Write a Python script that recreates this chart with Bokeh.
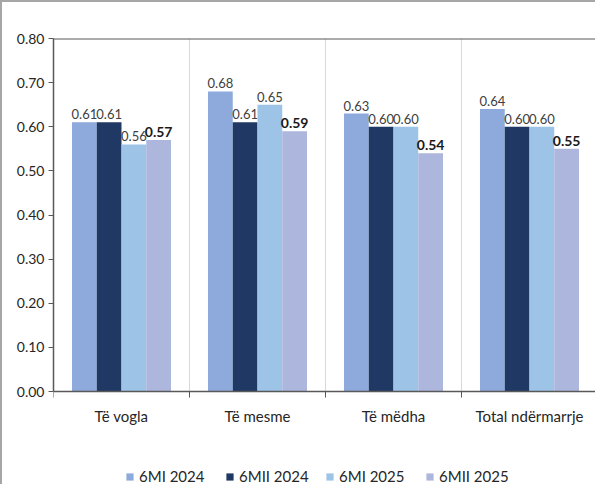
from bokeh.plotting import figure
from bokeh.models import (Range1d, FixedTicker, Legend, LegendItem, Span,
                          NumeralTickFormatter)
from bokeh.core.properties import value
from bokeh.embed import file_html
from bokeh.resources import INLINE

categories = ["Të vogla", "Të mesme", "Të mëdha", "Total ndërmarrje"]
series_names = ["6MI 2024", "6MII 2024", "6MI 2025", "6MII 2025"]
s_6MI_2024 = [0.61, 0.68, 0.63, 0.64]
s_6MII_2024 = [0.61, 0.61, 0.60, 0.60]
s_6MI_2025 = [0.56, 0.65, 0.60, 0.60]
s_6MII_2025 = [0.57, 0.59, 0.54, 0.55]
y_ticks = [0.0, 0.1, 0.2, 0.3, 0.4, 0.5, 0.6, 0.7, 0.8]

series = [s_6MI_2024, s_6MII_2024, s_6MI_2025, s_6MII_2025]
colors = ["#8EA9DB", "#1F3864", "#9DC3E6", "#ADB6DC"]

FONT = value("Lato")
TXT = "#404040"
AXIS = "#595959"

ncat = len(categories)
ymax = y_ticks[-1]
# room below zero (inside the frame) for category labels and legend
ymin = -ymax * 95 / 353

p = figure(width=595, height=484, output_backend="svg", toolbar_location=None,
           x_range=Range1d(0, ncat), y_range=Range1d(ymin, ymax),
           min_border_left=51, min_border_right=0, min_border_top=36,
           min_border_bottom=0)
p.styles = {"border-top": "2px solid #a6a6a6", "border-left": "2px solid #a6a6a6"}
p.outline_line_color = None
p.grid.visible = False
p.xaxis.visible = False

# category separators (vertical grid) between 0 and the top
bounds_x = list(range(1, ncat))
p.segment(x0=bounds_x, y0=[0] * len(bounds_x), x1=bounds_x, y1=[ymax] * len(bounds_x),
          line_color="#d9d9d9", line_width=1)

n = len(series)
bw = 0.182
renderers = []
for i, (vals, col, name) in enumerate(zip(series, colors, series_names)):
    off = (i - (n - 1) / 2) * bw
    xs = [k + 0.5 + off for k in range(ncat)]
    r = p.vbar(x=xs, top=vals, width=bw, fill_color=col, line_color=None)
    renderers.append((name, r))
    bold = (i == n - 1)
    p.text(x=xs, y=vals, text=[f"{v:.2f}" for v in vals], text_font=FONT,
           text_font_size="14px" if bold else "13px",
           text_font_style="bold" if bold else "normal",
           text_color="#1a1a1a" if bold else TXT,
           text_align="center", text_baseline="bottom", y_offset=-3)

# top line and x axis line
p.add_layout(Span(location=ymax, dimension="width", line_color=AXIS, line_width=2))
p.add_layout(Span(location=0, dimension="width", line_color=AXIS, line_width=1.5))
# tick marks at category boundaries
ticks_x = list(range(0, ncat + 1))
tick_len = ymax * 6 / 353
p.segment(x0=ticks_x, y0=[0] * len(ticks_x), x1=ticks_x, y1=[-tick_len] * len(ticks_x),
          line_color=AXIS, line_width=1)
# category labels
p.text(x=[k + 0.5 for k in range(ncat)], y=[0] * ncat, text=categories,
       text_font=FONT, text_font_size="15px", text_color="#262626",
       text_align="center", text_baseline="middle", y_offset=24)

ya = p.yaxis[0]
ya.ticker = FixedTicker(ticks=y_ticks)
ya.bounds = (0, ymax)
ya.formatter = NumeralTickFormatter(format="0.00")
ya.major_tick_out = 5
ya.major_tick_in = 0
ya.minor_tick_line_color = None
ya.axis_line_color = AXIS
ya.axis_line_width = 1.5
ya.major_tick_line_color = AXIS
ya.major_label_standoff = 4
ya.major_label_text_font = "Lato"
ya.major_label_text_font_size = "14px"
ya.major_label_text_color = "#262626"

legend = Legend(items=[LegendItem(label=nm, renderers=[r]) for nm, r in renderers],
                orientation="horizontal", location=(72, 1),
                glyph_width=9, glyph_height=9, label_standoff=5,
                label_width=78, spacing=8, padding=0, margin=0,
                border_line_color=None, background_fill_alpha=0,
                label_text_font="Lato", label_text_font_size="15px",
                label_text_color="#262626")
p.add_layout(legend)

open("out.html", "w").write(file_html(p, INLINE))
